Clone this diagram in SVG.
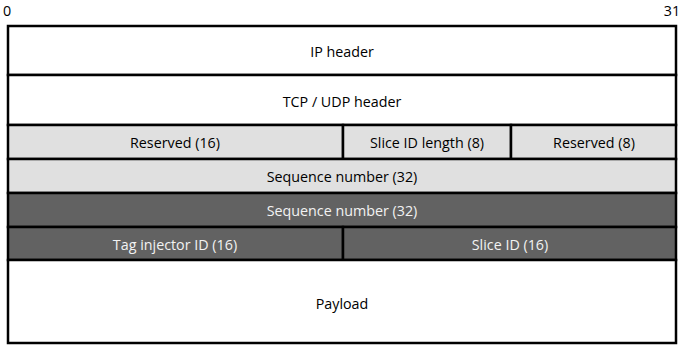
<svg xmlns="http://www.w3.org/2000/svg" width="684" height="345" viewBox="0 0 684 345">
<style>
.b{stroke:#000;stroke-width:2.5}
.w{fill:#fff}.l{fill:#e0e0e0}.d{fill:#626262}
text{font-family:"Open Sans","Liberation Sans",sans-serif;font-size:14.3px;text-anchor:middle;dominant-baseline:central;fill:#000}
.t{fill:#f2f2f2}
</style>
<rect width="684" height="345" fill="#fff"/>
<text x="7" y="10" font-size="13px">0</text>
<text x="672" y="10" font-size="13px">31</text>
<g id="ip"><rect class="b w" x="8" y="26" width="668" height="49"/><text x="342" y="51">IP header</text></g>
<g id="tcp"><rect class="b w" x="8" y="75" width="668" height="50"/><text x="342" y="101">TCP / UDP header</text></g>
<g id="res16"><rect class="b l" x="8" y="125" width="335" height="34"/><text x="175" y="142">Reserved (16)</text></g>
<g id="sidlen"><rect class="b l" x="343" y="125" width="168" height="34"/><text x="427" y="142">Slice ID length (8)</text></g>
<g id="res8"><rect class="b l" x="511" y="125" width="165" height="34"/><text x="594" y="142">Reserved (8)</text></g>
<g id="seq1"><rect class="b l" x="8" y="159" width="668" height="34"/><text x="342" y="176">Sequence number (32)</text></g>
<g id="seq2"><rect class="b d" x="8" y="193" width="668" height="34"/><text class="t" x="342" y="210">Sequence number (32)</text></g>
<g id="tag"><rect class="b d" x="8" y="227" width="335" height="33"/><text class="t" x="175" y="244">Tag injector ID (16)</text></g>
<g id="sid"><rect class="b d" x="343" y="227" width="333" height="33"/><text class="t" x="510" y="244">Slice ID (16)</text></g>
<g id="payload"><rect class="b w" x="8" y="260" width="668" height="83"/><text x="342" y="303">Payload</text></g>
<g id="connectors"></g>
</svg>
